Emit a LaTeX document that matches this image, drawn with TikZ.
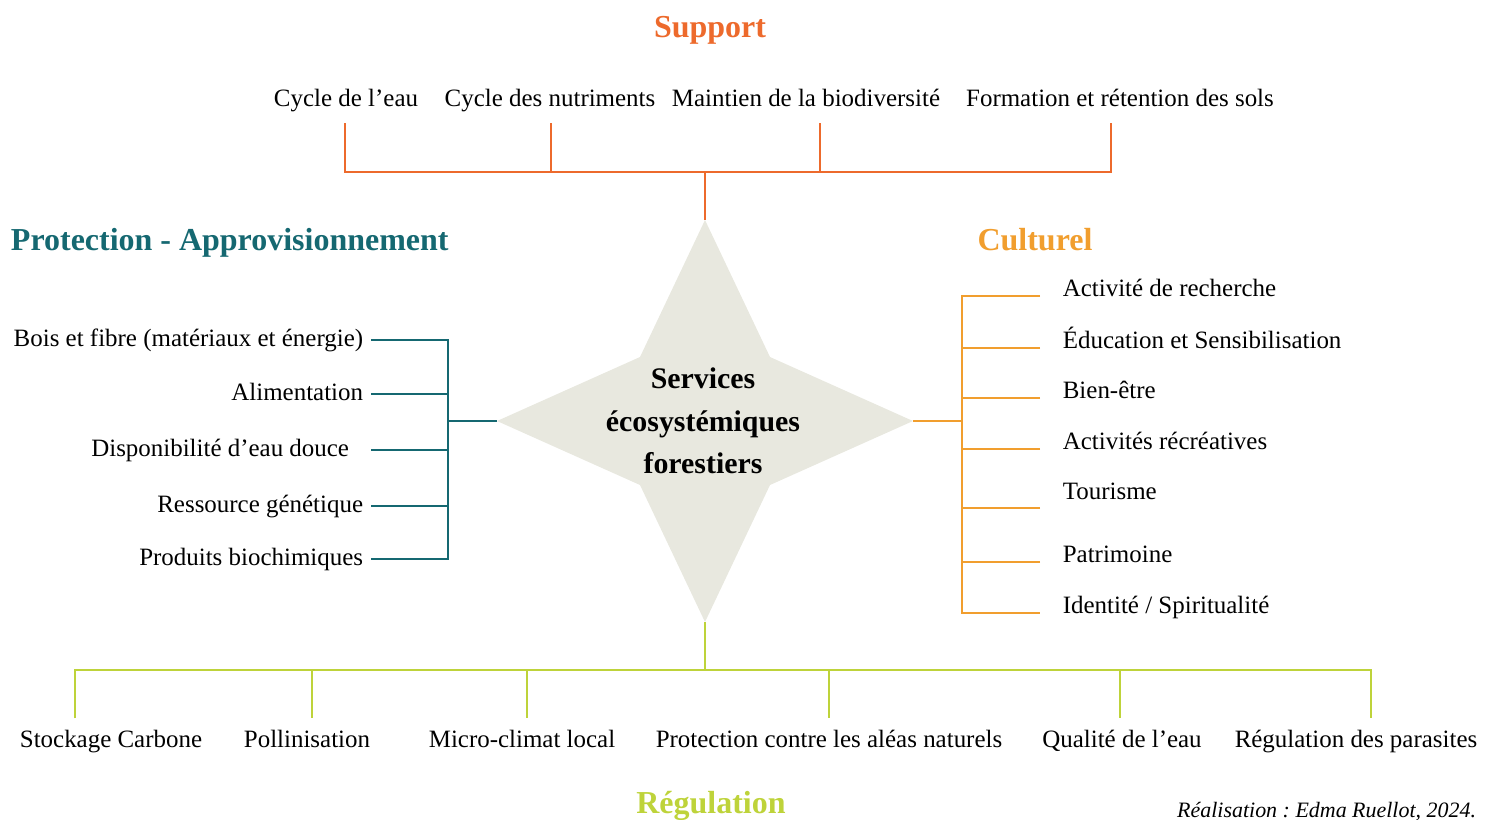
\documentclass[tikz,border=0pt]{standalone}
\usepackage{fontspec}
\setmainfont{Liberation Serif}
\usepackage{tikz}
\usetikzlibrary{positioning}
\definecolor{suporange}{RGB}{237,106,44}
\definecolor{proteal}{RGB}{21,104,113}
\definecolor{culorange}{RGB}{241,158,46}
\definecolor{reglime}{RGB}{190,211,58}
\definecolor{stargrey}{RGB}{232,232,223}
\frenchspacing

\begin{document}
\begin{tikzpicture}[x=0.02cm,y=-0.02cm,line width=1.1pt,every node/.style={inner sep=0pt},
  head/.style={font=\fontsize{18.2}{22}\selectfont\bfseries},
  item/.style={font=\fontsize{14.2}{17}\selectfont,text height=9.5pt,text depth=3pt},
  supitem/.style={item,anchor=base,outer ysep=6.8pt},
  protitem/.style={item,anchor=base east,outer xsep=4.5pt},
  cultitem/.style={item,anchor=base west,outer xsep=13pt},
  regitem/.style={item,anchor=base,outer ysep=6.8pt}]
\useasboundingbox (0,0) rectangle (1488,819);

  \node[head,text=suporange,anchor=base](sup) at (710,37){Support};
  \node[head,text=proteal,anchor=base west](pro) at (10,250){Protection - Approvisionnement};
  \node[head,text=culorange,anchor=base](cul) at (1035,250){Culturel};
  \node[head,text=reglime,anchor=base](reg) at (711,813){Régulation};
  \node[font=\fontsize{12.5}{15}\selectfont\itshape,anchor=base east](real) at (1477,817){Réalisation : Edma Ruellot, 2024.};

  % the star in the middle
  \coordinate (n) at (705,220);
  \coordinate (e) at (913,421);
  \coordinate (s) at (705,622);
  \coordinate (w) at (497,421);
  \fill[stargrey](n)--(770,357)--(e)--(770,485)--(s)--(640,485)--(w)--(640,357)--cycle;
  \node[font=\fontsize{17}{24.2}\selectfont\bfseries,align=center](ses) at (703,421){Services\\écosystémiques\\forestiers};

  % support
  \node[supitem](s1) at (346,106){Cycle de l’eau};
  \node[supitem](s2) at (550,106){Cycle des nutriments};
  \node[supitem](s3) at (806,106){Maintien de la biodiversité};
  \node[supitem](s4) at (1120,106){Formation et rétention des sols};
  \coordinate (sj) at (705,172);
  \coordinate (sb1) at (345,172);
  \coordinate (sb2) at (551,172);
  \coordinate (sb3) at (820,172);
  \coordinate (sb4) at (1111,172);
  \draw[suporange](n)--(sj);
  \draw[suporange](s1.south -| sb1)--(sb1)--(sb4)--(s4.south -| sb4);
  \draw[suporange](sb2)--(s2.south -| sb2);
  \draw[suporange](sb3)--(s3.south -| sb3);

  % protection - approvisionnement
  \node[protitem](p1) at (371,346){Bois et fibre (matériaux et énergie)};
  \node[protitem](p2) at (371,400){Alimentation};
  \node[protitem](p3) at (371,456){Disponibilité d’eau douce\hspace*{8pt}};
  \node[protitem](p4) at (371,512){Ressource génétique};
  \node[protitem](p5) at (371,565){Produits biochimiques};
  \coordinate (pj) at (448,421);
  \draw[proteal](w)--(pj);
  \draw[proteal](p1.east)--(p1.east -| pj)--(p5.east -| pj)--(p5.east);
  \draw[proteal](p2.east)--(p2.east -| pj);
  \draw[proteal](p3.east)--(p3.east -| pj);
  \draw[proteal](p4.east)--(p4.east -| pj);

  % culturel
  \node[cultitem](c1) at (1040,296){Activité de recherche};
  \node[cultitem](c2) at (1040,348){Éducation et Sensibilisation};
  \node[cultitem](c3) at (1040,398){Bien-être};
  \node[cultitem](c4) at (1040,449){Activités récréatives};
  \node[cultitem](c5) at (1040,499){Tourisme};
  \node[cultitem](c6) at (1040,562){Patrimoine};
  \node[cultitem](c7) at (1040,613){Identité / Spiritualité};
  \coordinate (cj) at (962,421);
  \draw[culorange](e)--(cj);
  \draw[culorange](c1.base west)--(c1.base west -| cj)--(c7.base west -| cj)--(c7.base west);
  \draw[culorange](c2.base west)--(c2.base west -| cj);
  \draw[culorange](c3.base west)--(c3.base west -| cj);
  \draw[culorange](c4.base west)--(c4.base west -| cj);
  \draw[culorange]([yshift=-5pt]c5.base west)--([yshift=-5pt]c5.base west -| cj);
  \draw[culorange](c6.base west)--(c6.base west -| cj);

  % regulation
  \node[regitem](r1) at (111,747){Stockage Carbone};
  \node[regitem](r2) at (307,747){Pollinisation};
  \node[regitem](r3) at (522,747){Micro-climat local};
  \node[regitem](r4) at (829,747){Protection contre les aléas naturels};
  \node[regitem](r5) at (1122,747){Qualité de l’eau};
  \node[regitem](r6) at (1356,747){Régulation des parasites};
  \coordinate (rj) at (705,670);
  \coordinate (rb1) at (75,670);
  \coordinate (rb2) at (312,670);
  \coordinate (rb3) at (527,670);
  \coordinate (rb4) at (829,670);
  \coordinate (rb5) at (1120,670);
  \coordinate (rb6) at (1371,670);
  \draw[reglime](s)--(rj);
  \draw[reglime](r1.north -| rb1)--(rb1)--(rb6)--(r6.north -| rb6);
  \draw[reglime](rb2)--(r2.north -| rb2);
  \draw[reglime](rb3)--(r3.north -| rb3);
  \draw[reglime](rb4)--(r4.north -| rb4);
  \draw[reglime](rb5)--(r5.north -| rb5);
\end{tikzpicture}
\end{document}
